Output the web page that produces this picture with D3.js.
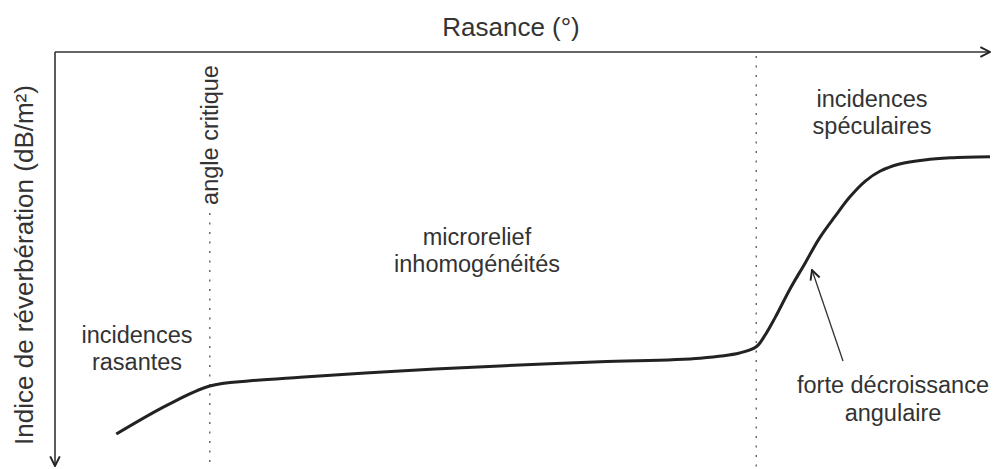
<!DOCTYPE html>
<html lang="fr">
<head>
<meta charset="utf-8" />
<title>Indice de réverbération en fonction de la rasance</title>
<script src="https://d3js.org/d3.v7.min.js"></script>
<style>
  html, body { margin: 0; padding: 0; background: #fff; }
  svg text { font-family: "Liberation Sans", Arial, sans-serif; fill: #333; }
</style>
</head>
<body>
<svg width="995" height="469"></svg>
<script>
// rasance (degrés) et indice de réverbération (échelle relative, dB)
var rasance = [5.9, 10.8, 14.9, 18.8, 23.6, 33.2, 42.8, 52.5, 62.1, 65.9, 67.5, 68.3, 69.3, 70.75, 72.2, 73.6, 75.1, 76.5, 78.0, 79.4, 81.3, 83.7, 86.2, 90];
var indice  = [3.0, 5.8, 7.65, 8.15, 8.5, 9.1, 9.6, 10.0, 10.35, 10.85, 11.45, 12.5, 14.25, 17.05, 19.55, 22.0, 24.1, 25.95, 27.5, 28.45, 29.15, 29.55, 29.75, 29.85];

// angles remarquables (lignes pointillées)
var angleCritique = 14.9;
var angleSpeculaire = 67.5;

var svg = d3.select("svg");

var x = d3.scaleLinear().domain([0, 90]).range([55, 990]);
var y = d3.scaleLinear().domain([0, 40]).range([465, 52]);

var ink = "#222";

svg.append("defs").append("marker")
    .attr("id", "fleche")
    .attr("viewBox", "0 0 10 10")
    .attr("refX", 9).attr("refY", 5)
    .attr("markerWidth", 12).attr("markerHeight", 12)
    .attr("markerUnits", "userSpaceOnUse")
    .attr("orient", "auto")
  .append("path")
    .attr("d", "M1,1 L9,5 L1,9")
    .attr("fill", "none")
    .attr("stroke", ink)
    .attr("stroke-width", 1.6);

// axes
svg.append("line")
    .attr("x1", x(0)).attr("y1", y(40))
    .attr("x2", x(90)).attr("y2", y(40))
    .attr("stroke", "#333").attr("stroke-width", 1.6)
    .attr("marker-end", "url(#fleche)");

svg.append("line")
    .attr("x1", x(0)).attr("y1", y(40))
    .attr("x2", x(0)).attr("y2", 466)
    .attr("stroke", "#333").attr("stroke-width", 1.6)
    .attr("marker-end", "url(#fleche)");

// lignes pointillées
svg.append("line")
    .attr("x1", x(angleCritique)).attr("y1", 213)
    .attr("x2", x(angleCritique)).attr("y2", 469)
    .attr("stroke", "#555").attr("stroke-width", 1.3)
    .attr("stroke-dasharray", "2,7.5");

svg.append("line")
    .attr("x1", x(angleSpeculaire)).attr("y1", y(40) + 4)
    .attr("x2", x(angleSpeculaire)).attr("y2", 469)
    .attr("stroke", "#555").attr("stroke-width", 1.3)
    .attr("stroke-dasharray", "2,7.5");

// courbe
var points = rasance.map(function(d, i) { return [d, indice[i]]; });
var line = d3.line()
    .x(function(d) { return x(d[0]); })
    .y(function(d) { return y(d[1]); })
    .curve(d3.curveCatmullRom.alpha(0.5));

svg.append("path")
    .datum(points)
    .attr("d", line)
    .attr("fill", "none")
    .attr("stroke", ink)
    .attr("stroke-width", 3);

// flèche d'annotation
svg.append("line")
    .attr("x1", 843).attr("y1", 361)
    .attr("x2", 812).attr("y2", 270)
    .attr("stroke", "#333").attr("stroke-width", 1.3)
    .attr("marker-end", "url(#fleche)");

// textes
svg.append("text")
    .attr("x", 511).attr("y", 36)
    .attr("text-anchor", "middle")
    .style("font-size", "26px")
    .text("Rasance (°)");

svg.append("text")
    .attr("transform", "translate(33,265) rotate(-90)")
    .attr("text-anchor", "middle")
    .style("font-size", "26px")
    .text("Indice de réverbération (dB/m²)");

svg.append("text")
    .attr("transform", "translate(218,135) rotate(-90)")
    .attr("text-anchor", "middle")
    .style("font-size", "23.5px")
    .text("angle critique");

function bloc(lignes, cx, y0, dy) {
  var t = svg.append("text")
      .attr("text-anchor", "middle")
      .style("font-size", "23.5px");
  lignes.forEach(function(l, i) {
    t.append("tspan").attr("x", cx).attr("y", y0 + i * dy).text(l);
  });
}

bloc(["incidences", "rasantes"], 137, 343, 27);
bloc(["microrelief", "inhomogénéités"], 477, 245, 27);
bloc(["incidences", "spéculaires"], 872, 107, 27);
bloc(["forte décroissance", "angulaire"], 893, 393, 28);
</script>
</body>
</html>
